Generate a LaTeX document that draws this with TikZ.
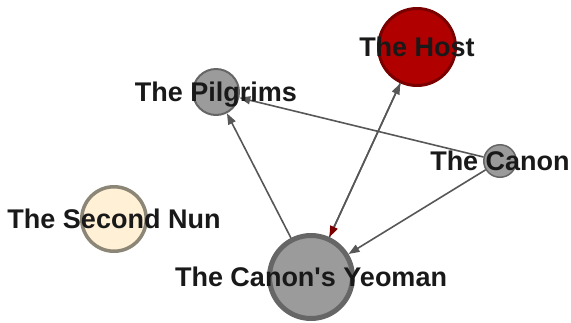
\documentclass[tikz,border=0pt]{standalone}
\usepackage{fontspec}
\setmainfont{Liberation Sans}
\usetikzlibrary{arrows.meta}

\definecolor{hostred}{HTML}{B00000}
\definecolor{hostdark}{HTML}{7A0000}
\definecolor{nodegrey}{HTML}{9B9B9B}
\definecolor{bordergrey}{HTML}{666666}
\definecolor{nuncream}{HTML}{FFF0D6}
\definecolor{nunborder}{HTML}{8C8677}
\definecolor{linkgrey}{HTML}{575757}

\begin{document}
\begin{tikzpicture}[x=1pt,y=-1pt,
		person/.style={circle, inner sep=0pt, fill=nodegrey, draw=bordergrey},
		plabel/.style={font=\fontsize{27}{30}\selectfont\bfseries, text=black!90, inner sep=0pt, text height=0.72em, text depth=0pt, yshift=-6pt},
		link/.style={draw=linkgrey, line width=1.6pt, -{Triangle[length=11pt,width=8pt]}}]
			\useasboundingbox (0,0) rectangle (571,322);

			% Draw the pilgrims as circles
			\node[person, fill=hostred, draw=hostdark, line width=3pt, minimum size=77pt] (host) at (417,47) {};
			\node[person, line width=2pt, minimum size=46pt] (pilgrims) at (216,92) {};
			\node[person, line width=1.5pt, minimum size=32.5pt] (canon) at (500,161) {};
			\node[person, line width=5pt, minimum size=83pt] (yeoman) at (311,277) {};
			\node[person, fill=nuncream, draw=nunborder, line width=3.5pt, minimum size=64.5pt] (nun) at (114,219) {};

			% Draw the links
			\draw[link] (yeoman) -- (pilgrims);
			\draw[link] (yeoman) -- (host);
			\draw[link, -{Triangle[length=11pt,width=8pt,color=hostdark]}] (host) -- (yeoman);
			\draw[link] (canon) -- (yeoman);
			\draw[link] (canon) -- (pilgrims);

			% Names on top
			\node[plabel] at (host) {The Host};
			\node[plabel] at (pilgrims) {The Pilgrims};
			\node[plabel] at (canon) {The Canon};
			\node[plabel] at (yeoman) {The Canon\textquotesingle s Yeoman};
			\node[plabel] at (nun) {The Second Nun};
		\end{tikzpicture}
\end{document}
